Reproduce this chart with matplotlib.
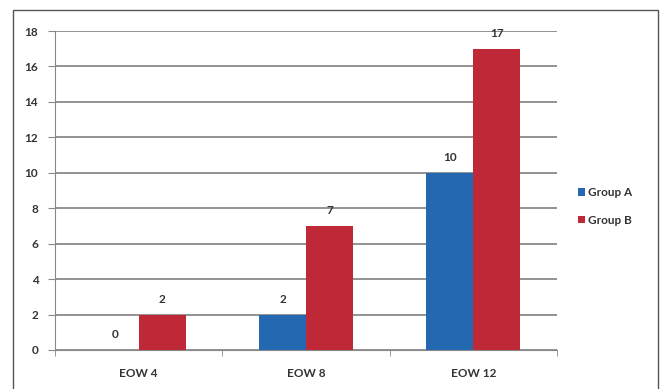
import matplotlib.pyplot as plt
import numpy as np
from matplotlib.patches import Rectangle

plt.rcParams['font.family'] = ['Lato', 'DejaVu Sans']

categories = ['EOW 4', 'EOW 8', 'EOW 12']
group_a = [0, 2, 10]
group_b = [2, 7, 17]
series_names = ['Group A', 'Group B']
y_ticks = [0, 2, 4, 6, 8, 10, 12, 14, 16, 18]

blue = '#2468b2'
red = '#bf2836'
txt = '#333333'

fig = plt.figure(figsize=(6.6, 3.89), dpi=100)
ax = fig.add_axes([55/660, 1-350/389, (557-55)/660, (350-31)/389])

# outer chart border
fig.patches.append(Rectangle((13/660, -0.05), (658-13)/660, 1.05 - 10/389,
                             transform=fig.transFigure, fill=False,
                             edgecolor='#555555', linewidth=1.0))

x = np.arange(len(categories))
w = 0.28
ba = ax.bar(x - w/2, group_a, w, color=blue, label=series_names[0], zorder=3)
bb = ax.bar(x + w/2, group_b, w, color=red, label=series_names[1], zorder=3)

for bars, vals in [(ba, group_a), (bb, group_b)]:
    for b, v in zip(bars, vals):
        ax.annotate(str(v), (b.get_x() + b.get_width()/2, v),
                    xytext=(0, 7), textcoords='offset points',
                    ha='center', va='bottom', fontsize=8.5, fontweight='bold', color=txt)

ax.set_xlim(-0.5, 2.5)
ax.set_ylim(0, 18)
ax.set_yticks(y_ticks)
ax.set_xticks(x)
ax.set_xticklabels(categories)
ax.set_xticks([-0.5, 0.5, 1.5, 2.5], minor=True)
ax.tick_params(axis='x', which='major', length=0, pad=13, labelsize=8.5, labelcolor=txt)
ax.tick_params(axis='x', which='minor', length=4, color='#888888')
ax.tick_params(axis='y', length=5, color='#888888', pad=7, labelsize=8.5, labelcolor=txt)
for lab in ax.get_xticklabels() + ax.get_yticklabels():
    lab.set_fontweight('bold')

ax.grid(axis='y', color='#808080', linewidth=1.2, zorder=0)
for s in ['top', 'right']:
    ax.spines[s].set_visible(False)
ax.spines['left'].set_color('#888888')
ax.spines['bottom'].set_color('#888888')

leg = ax.legend(loc='center left', bbox_to_anchor=(1.02, 0.45), frameon=False,
                fontsize=8.5, handlelength=0.6, handleheight=0.6, handletextpad=0.3,
                labelspacing=1.4)
for t in leg.get_texts():
    t.set_color(txt)
    t.set_fontweight('bold')

fig.savefig('out.png', dpi=100, facecolor='white')
